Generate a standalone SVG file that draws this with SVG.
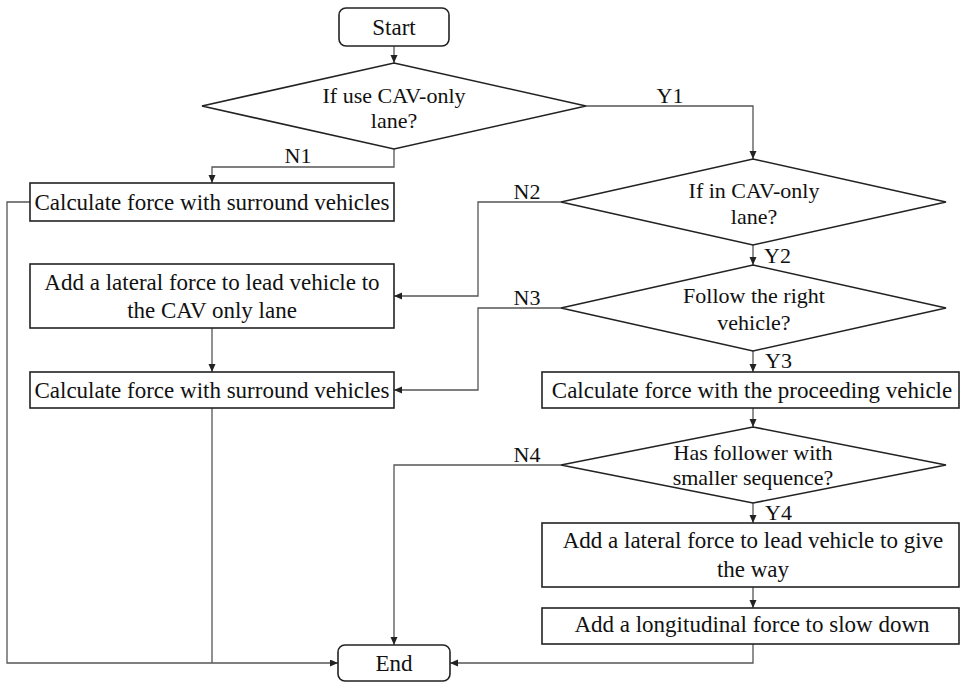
<svg xmlns="http://www.w3.org/2000/svg" width="962" height="684" viewBox="0 0 962 684">
<defs>
<marker id="ah" markerUnits="userSpaceOnUse" markerWidth="9" markerHeight="8" refX="8" refY="3.5" orient="auto">
<path d="M0,0 L8,3.5 L0,7 z" fill="#222"/>
</marker>
<style>
.bg{fill:#fff}
.box{fill:#fff;stroke:#222;stroke-width:1.6}
.dia{fill:#fff;stroke:#222;stroke-width:1.6;stroke-linejoin:miter}
text{font-family:'Liberation Serif','DejaVu Serif',serif;fill:#111}
.t{font-size:23px;text-anchor:middle}
.td{font-size:22px;text-anchor:middle}
.lbl{font-size:22px}
.c{fill:none;stroke:#555;stroke-width:1.3}
.ca{fill:none;stroke:#555;stroke-width:1.3;marker-end:url(#ah)}
</style>
</defs>
<rect class="bg" x="0" y="0" width="962" height="684"/>

<g id="connectors">
<path class="ca" d="M394,46 V63"/>
<path class="ca" d="M586,106 H753 V159"/>
<path class="ca" d="M394,149 V167 H212 V183"/>
<path class="ca" d="M30,202 H7 V663 H338"/>
<path class="ca" d="M561,202 H478 V296 H394"/>
<path class="ca" d="M753,245 V265"/>
<path class="ca" d="M212,328 V372"/>
<path class="ca" d="M561,308 H478 V390 H394"/>
<path class="ca" d="M753,351 V372"/>
<path class="c" d="M212,408 V663"/>
<path class="ca" d="M753,408 V427"/>
<path class="ca" d="M561,465 H394 V645"/>
<path class="ca" d="M753,503 V523"/>
<path class="ca" d="M753,587 V608"/>
<path class="ca" d="M753,644 V663 H450"/>
</g>

<g id="labels" font-family="Liberation Serif, serif">
<text class="lbl" x="298" y="163" text-anchor="middle">N1</text>
<text class="lbl" x="670" y="103" text-anchor="middle">Y1</text>
<text class="lbl" x="527" y="199" text-anchor="middle">N2</text>
<text class="lbl" x="764" y="263">Y2</text>
<text class="lbl" x="527" y="305" text-anchor="middle">N3</text>
<text class="lbl" x="765" y="368">Y3</text>
<text class="lbl" x="527" y="462" text-anchor="middle">N4</text>
<text class="lbl" x="765" y="520">Y4</text>
</g>

<g id="start">
<rect class="box" x="339" y="8" width="110" height="38" rx="7"/>
<text class="t" x="394" y="35">Start</text>
</g>

<g id="d1">
<polygon class="dia" points="394,63 586,106 394,149 202,106"/>
<text class="td" x="394" y="103">If use CAV-only</text>
<text class="td" x="394" y="128">lane?</text>
</g>

<g id="box1">
<rect class="box" x="30" y="183" width="364" height="38"/>
<text class="t" x="212" y="210">Calculate force with surround vehicles</text>
</g>

<g id="d2">
<polygon class="dia" points="753,159 946,202 753,245 561,202"/>
<text class="td" x="754" y="198">If in CAV-only</text>
<text class="td" x="754" y="224">lane?</text>
</g>

<g id="box2">
<rect class="box" x="30" y="264" width="364" height="64"/>
<text class="t" x="212" y="290">Add a lateral force to lead vehicle to</text>
<text class="t" x="212" y="318">the CAV only lane</text>
</g>

<g id="d3">
<polygon class="dia" points="753,265 946,308 753,351 561,308"/>
<text class="td" x="754" y="303">Follow the right</text>
<text class="td" x="754" y="330">vehicle?</text>
</g>

<g id="box3">
<rect class="box" x="30" y="372" width="364" height="36"/>
<text class="t" x="212" y="398">Calculate force with surround vehicles</text>
</g>

<g id="box4">
<rect class="box" x="542" y="372" width="417" height="36"/>
<text class="t" x="752" y="398">Calculate force with the proceeding vehicle</text>
</g>

<g id="d4">
<polygon class="dia" points="753,427 946,465 753,503 561,465"/>
<text class="td" x="753" y="460">Has follower with</text>
<text class="td" x="753" y="485">smaller sequence?</text>
</g>

<g id="box5">
<rect class="box" x="542" y="523" width="417" height="64"/>
<text class="t" x="753" y="548">Add a lateral force to lead vehicle to give</text>
<text class="t" x="753" y="577">the way</text>
</g>

<g id="box6">
<rect class="box" x="542" y="608" width="417" height="36"/>
<text class="t" x="752" y="632">Add a longitudinal force to slow down</text>
</g>

<g id="end">
<rect class="box" x="338" y="645" width="112" height="36" rx="7"/>
<text class="t" x="394" y="671">End</text>
</g>
</svg>
